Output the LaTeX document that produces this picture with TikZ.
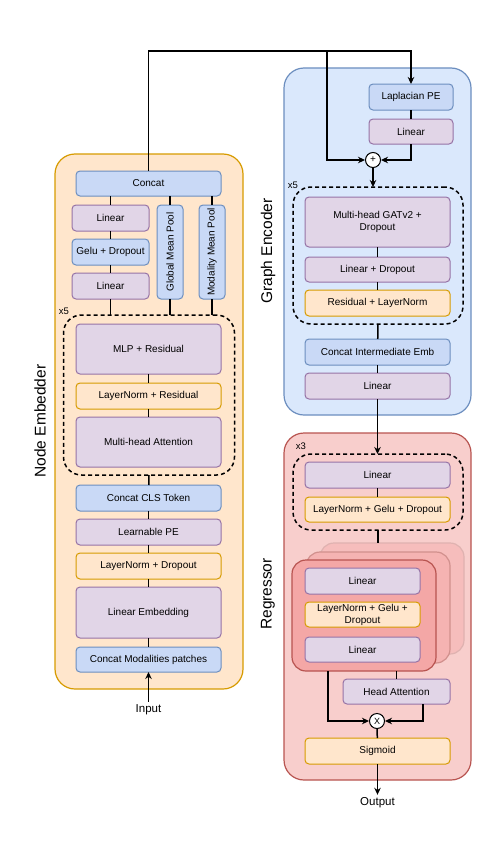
\documentclass[tikz,border=0pt]{standalone}
\usepackage{fontspec}
\setmainfont{Liberation Sans}
\usetikzlibrary{arrows.meta}

\definecolor{purplefill}{HTML}{E1D5E7}
\definecolor{purpleline}{HTML}{9673A6}
\definecolor{orangefill}{HTML}{FFE6CC}
\definecolor{orangeline}{HTML}{D79B00}
\definecolor{bluefill}{HTML}{C9D9F6}
\definecolor{blueline}{HTML}{6C8EBF}
\definecolor{bluegroup}{HTML}{DAE8FC}
\definecolor{redgroup}{HTML}{F8CECC}
\definecolor{redline}{HTML}{B85450}
\definecolor{cardfront}{HTML}{F4A7A6}
\definecolor{cardmid}{HTML}{F5B3B2}
\definecolor{cardback}{HTML}{F6BDBC}

\tikzset{
  layer/.style={draw, rounded corners=4pt, line width=1pt, inner sep=1pt, outer sep=0pt,
    align=center, minimum width=145pt, minimum height=26pt, font=\fontsize{10}{12}\selectfont},
  purplebox/.style={layer, fill=purplefill, draw=purpleline},
  orangebox/.style={layer, fill=orangefill, draw=orangeline},
  bluebox/.style={layer, fill=bluefill, draw=blueline},
  groupbox/.style={draw, rounded corners=20pt, line width=1.2pt, outer sep=0pt, inner sep=0pt},
  repeatbox/.style={draw, dash pattern=on 4pt off 3pt, rounded corners=18pt, line width=1.5pt,
    outer sep=0pt, inner sep=0pt},
  card/.style={draw, rounded corners=14pt, line width=1.2pt, outer sep=0pt, inner sep=0pt,
    minimum width=144pt, minimum height=111pt},
  opnode/.style={draw, circle, fill=white, line width=1pt, minimum size=15pt, inner sep=0pt,
    font=\fontsize{10}{10}\selectfont},
  sidelabel/.style={rotate=90, font=\fontsize{15.5}{18}\selectfont},
  reps/.style={font=\fontsize{9.5}{11}\selectfont},
  io/.style={font=\fontsize{11.5}{13}\selectfont, inner sep=1pt, outer sep=2pt},
  wire/.style={line width=1.5pt},
  >={Stealth[length=7pt,width=6.5pt]}
}

\begin{document}
\begin{tikzpicture}[x=1pt,y=-1pt]
  \useasboundingbox (0,0) rectangle (498,859);
  % Node Embedder
  \node[groupbox, fill=orangefill, draw=orangeline, minimum width=188pt, minimum height=535pt] (embedder) at (149,421.5) {};
  \node[sidelabel] (embedderlabel) at (40,421) {Node Embedder};
  \node[bluebox, minimum height=25pt] (concat) at (148.5,183.5) {Concat};
  \node[purplebox, minimum width=77pt] (linA) at (110.5,218) {Linear};
  \node[bluebox, minimum width=77pt] (gelu) at (110.5,252) {Gelu + Dropout};
  \node[purplebox, minimum width=77pt] (linB) at (110.5,286) {Linear};
  \node[bluebox, minimum width=26pt, minimum height=94pt] (gpool) at (170,252) {\rotatebox{90}{Global Mean Pool}};
  \node[bluebox, minimum width=26pt, minimum height=94pt] (mpool) at (212,252) {\rotatebox{90}{Modality Mean Pool}};
  \node[repeatbox, minimum width=171pt, minimum height=160pt] (blockA) at (149,395) {};
  \node[reps] (repA) at (64,311) {x5};
  \node[purplebox, minimum height=50pt] (mlp) at (148.5,349) {MLP + Residual};
  \node[orangebox] (lnres) at (148.5,396) {LayerNorm + Residual};
  \node[purplebox, minimum height=50pt] (mha) at (148.5,442) {Multi-head Attention};
  \node[bluebox] (cls) at (148.5,498) {Concat CLS Token};
  \node[purplebox] (lpe) at (148.5,532) {Learnable PE};
  \node[orangebox] (lndrop) at (148.5,566) {LayerNorm + Dropout};
  \node[purplebox, minimum height=51pt] (linemb) at (148.5,612.5) {Linear Embedding};
  \node[bluebox, minimum height=25pt] (patches) at (148.5,659.5) {Concat Modalities patches};
  \node[io] (input) at (148.5,710) {Input};
  \draw[wire] (concat.south -| linA.north) -- (linA.north);
  \draw[wire] (concat.south -| gpool.north) -- (gpool.north);
  \draw[wire] (concat.south -| mpool.north) -- (mpool.north);
  \draw[wire] (linA) -- (gelu) -- (linB);
  \draw[wire] (linB.south) -- (linB.south |- blockA.north);
  \draw[wire] (gpool.south) -- (gpool.south |- blockA.north);
  \draw[wire] (mpool.south) -- (mpool.south |- blockA.north);
  \draw[wire] (mlp) -- (lnres) -- (mha);
  \draw[wire] (blockA.south) -- (cls);
  \draw[wire] (cls) -- (lpe) -- (lndrop) -- (linemb) -- (patches);
  \draw[wire, ->] (input) -- (patches);

  % Graph Encoder
  \node[groupbox, fill=bluegroup, draw=blueline, minimum width=187pt, minimum height=347pt] (encoder) at (377.5,241.5) {};
  \node[sidelabel] (encoderlabel) at (268,251) {Graph Encoder};
  \node[bluebox, minimum width=84pt] (lap) at (411,97) {Laplacian PE};
  \node[purplebox, minimum width=84pt, minimum height=25pt] (lapline) at (411,131.5) {Linear};
  \node[opnode] (plus) at (373,160) {+};
  \node[repeatbox, minimum width=170pt, minimum height=137pt] (blockB) at (378,255.5) {};
  \node[reps] (repB) at (293,185) {x5};
  \node[purplebox, minimum height=50pt] (gat) at (377.5,222) {Multi-head GATv2 +\\Dropout};
  \node[purplebox, minimum height=25pt] (lindrop) at (377.5,269.5) {Linear + Dropout};
  \node[orangebox] (resln) at (377.5,303) {Residual + LayerNorm};
  \node[bluebox] (interemb) at (377.5,352) {Concat Intermediate Emb};
  \node[purplebox] (linG) at (377.5,386) {Linear};
  \coordinate (top) at (0,51);
  \coordinate (fork) at (327,51);
  \draw[wire, ->] (concat.north) -- (concat.north |- top) -| (lap.north);
  \draw[wire, ->] (fork) |- (plus.west);
  \draw[wire] (lap) -- (lapline);
  \draw[wire, ->] (lapline.south) |- (plus.east);
  \draw[wire, ->] (plus.south) -- (plus.south |- blockB.north);
  \draw[wire] (gat) -- (lindrop) -- (resln);
  \draw[wire] (blockB.south) -- (interemb);
  \draw[wire] (interemb) -- (linG);

  % Regressor
  \node[groupbox, fill=redgroup, draw=redline, minimum width=187pt, minimum height=347pt] (regressor) at (377.5,606.5) {};
  \node[sidelabel] (regressorlabel) at (268,594) {Regressor};
  \node[repeatbox, minimum width=170pt, minimum height=76pt] (blockC) at (378,492) {};
  \node[reps] (repC) at (301,446) {x3};
  \node[purplebox] (linR) at (377.5,475) {Linear};
  \node[orangebox, minimum height=25pt] (lngelu) at (377.5,509.5) {LayerNorm + Gelu + Dropout};
  \node[card, fill=cardback, draw=redline!45] (cardC) at (392,598.5) {};
  \node[card, fill=cardmid, draw=redline!65] (cardB) at (378,607.5) {};
  \node[card, fill=cardfront, draw=redline] (cardA) at (364,615.5) {};
  \node[purplebox, minimum width=115pt] (headlinA) at (362.5,581) {Linear};
  \node[orangebox, minimum width=115pt, minimum height=25pt] (headln) at (362.5,614.5) {LayerNorm + Gelu +\\Dropout};
  \node[purplebox, minimum width=115pt, minimum height=25pt] (headlinB) at (362.5,649.5) {Linear};
  \node[purplebox, minimum width=107pt, minimum height=25pt] (headatt) at (396.5,691.5) {Head Attention};
  \node[opnode] (times) at (377,721) {\fontsize{9}{9}\selectfont X};
  \node[orangebox] (sigmoid) at (377.5,751) {Sigmoid};
  \node[io] (output) at (377.5,803) {Output};
  \draw[wire, ->] (linG.south) -- (linG.south |- blockC.north);
  \draw[wire] (linR) -- (lngelu);
  \draw[wire] (blockC.south) -- (blockC.south |- cardC.north);
  \draw[wire] (cardA.south -| headatt.north) -- (headatt.north);
  \draw[wire, ->] ([xshift=36pt]cardA.south west) |- (times.west);
  \draw[wire, ->] ([xshift=-27pt]headatt.south east) |- (times.east);
  \draw[wire] (times) -- (sigmoid);
  \draw[wire, ->] (sigmoid.south) -- (output.north);
\end{tikzpicture}
\end{document}
